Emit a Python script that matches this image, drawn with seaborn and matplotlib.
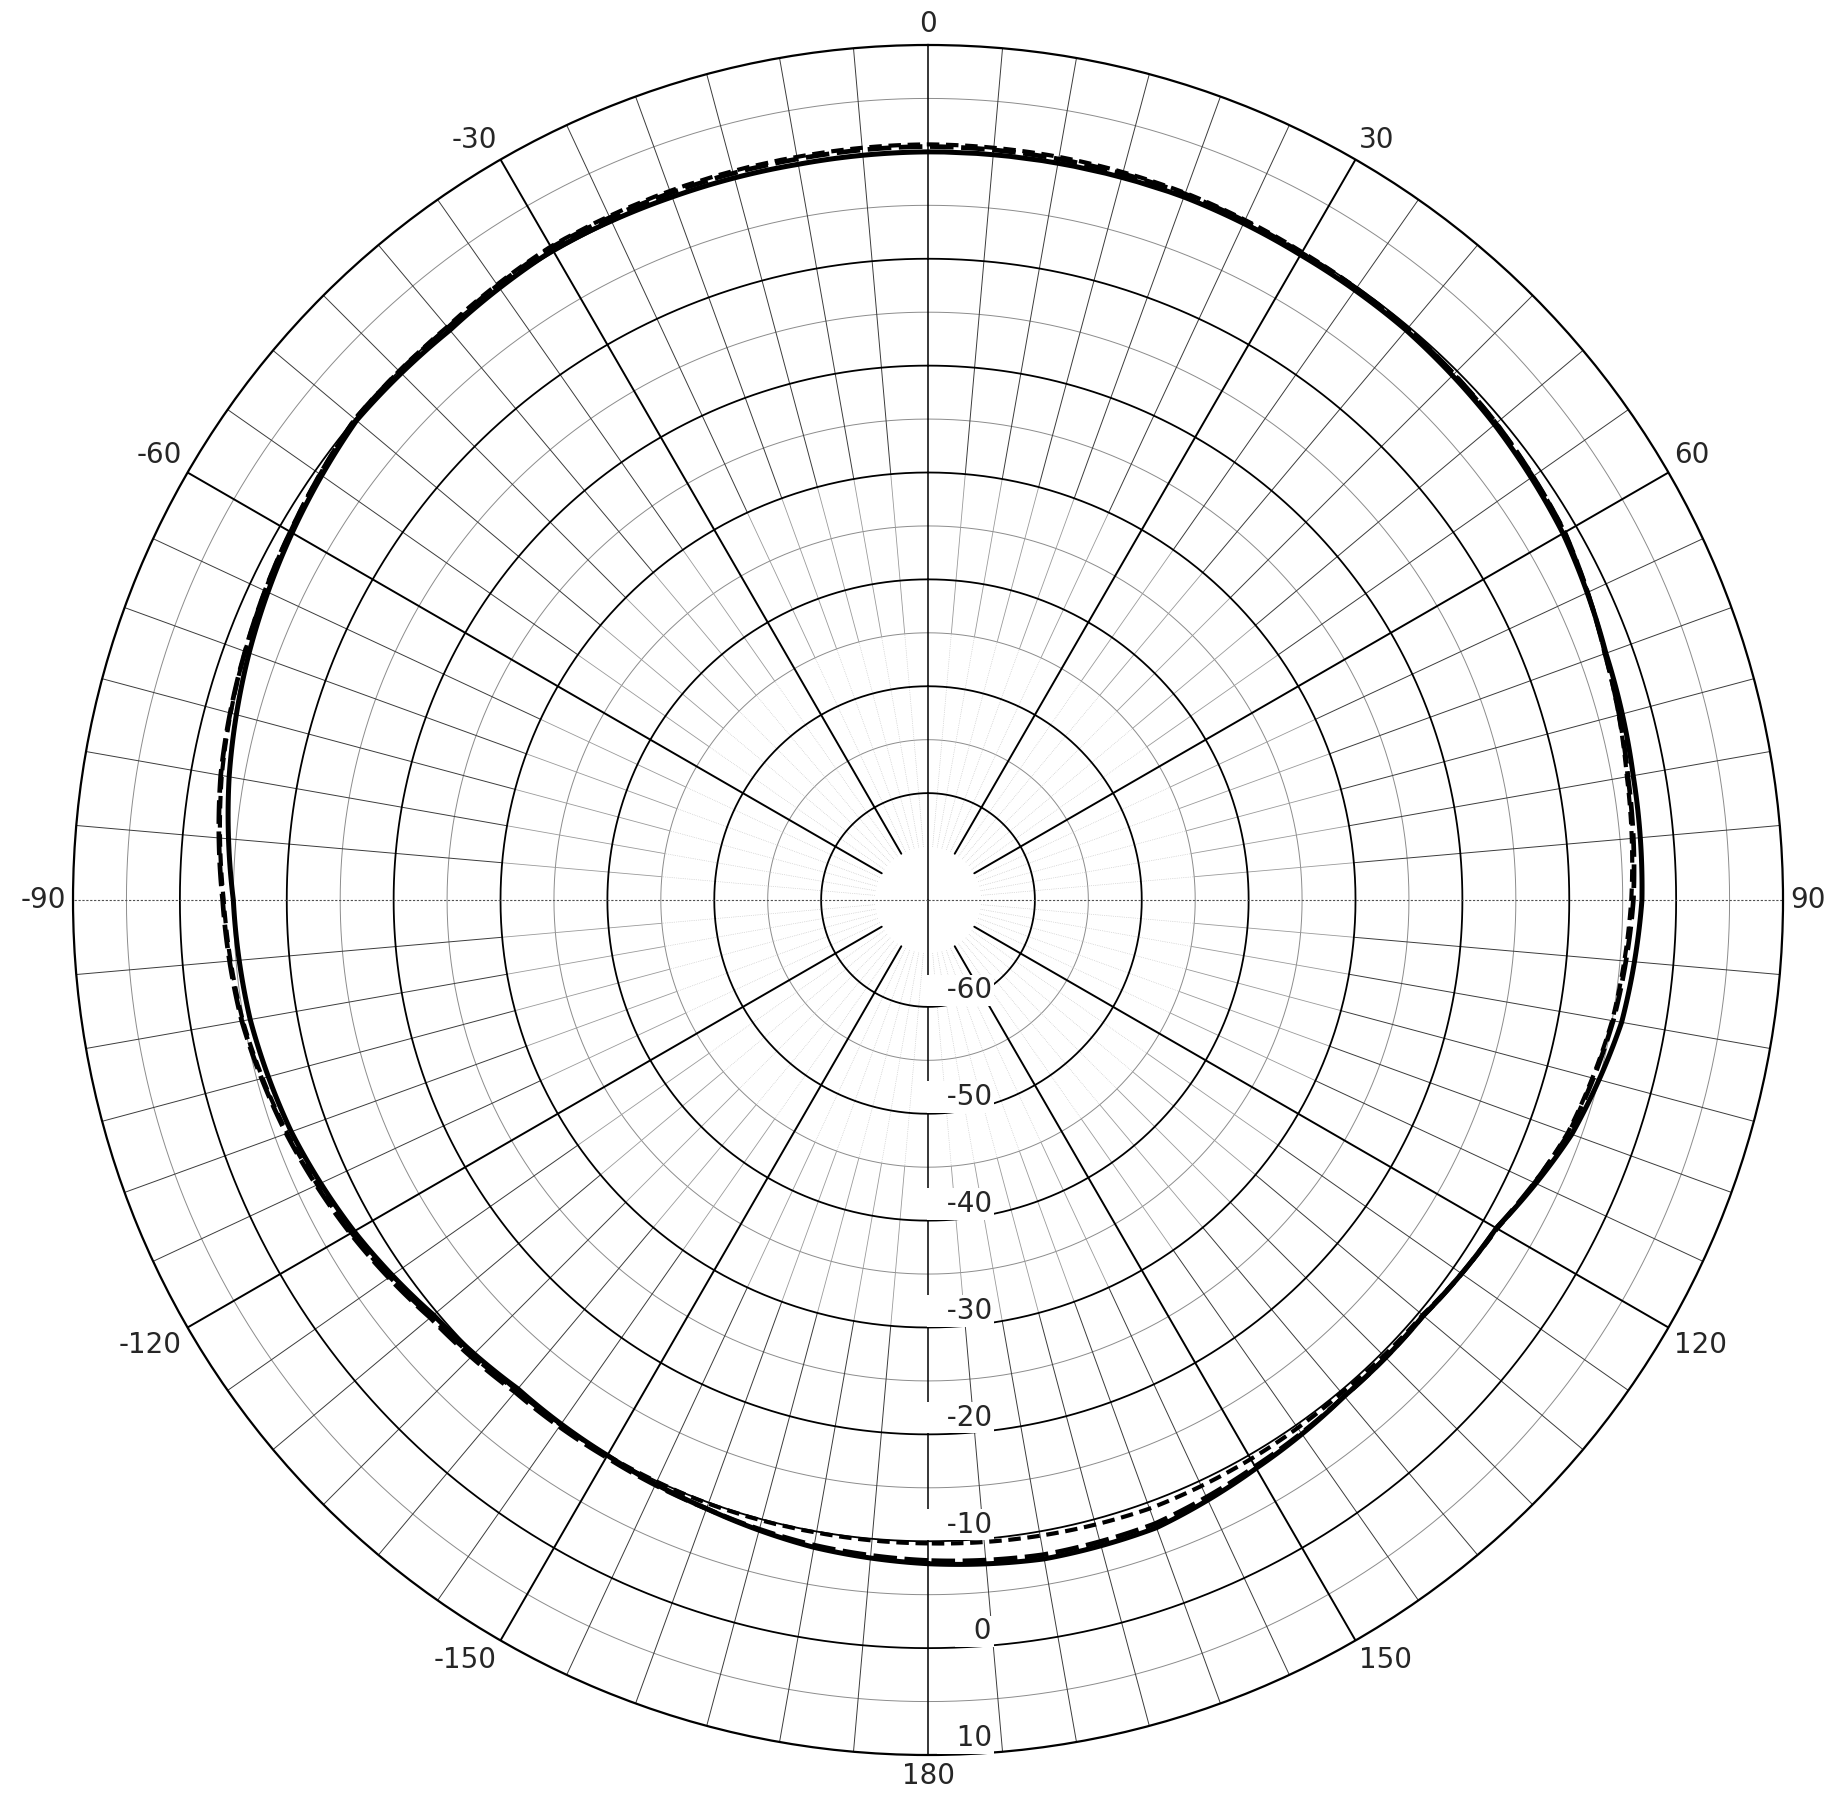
import numpy as np
import pandas as pd
import matplotlib
matplotlib.use('Agg')
import matplotlib.pyplot as plt
import seaborn as sns

# angle in degrees (0 at top, clockwise), level in dB
angles = [-180, -170, -160, -150, -140, -130, -120, -110, -100, -90,
          -80, -70, -60, -50, -40, -30, -20, -10, 0, 10,
          20, 30, 40, 50, 60, 70, 80, 90, 100, 110,
          120, 130, 140, 150, 160, 170, 180]

solid_db = [-7.9, -8.5, -9.4, -10.0, -10.3, -9.6, -8.0, -6.6, -5.6, -5.0,
            -3.6, -2.4, -1.3, -0.2, -0.4, 0.2, 0.0, -0.1, 0.0, 0.0,
            0.0, -0.3, -0.4, -0.8, -1.4, -2.5, -3.0, -3.2, -4.1, -5.9,
            -8.6, -9.5, -9.4, -8.6, -7.5, -7.4, -7.9]

long_dash_db = [-8.2, -8.7, -9.4, -9.8, -9.9, -9.2, -7.6, -6.1, -4.8, -4.0,
                -2.8, -2.0, -1.1, 0.0, -0.1, 0.5, 0.4, 0.4, 0.5, 0.4,
                0.3, -0.1, -0.2, -0.6, -1.2, -2.6, -3.5, -4.0, -4.9, -6.2,
                -8.6, -9.5, -9.4, -8.8, -7.9, -7.8, -8.2]

short_dash_db = [-9.8, -9.9, -9.9, -10.0, -10.1, -9.3, -7.7, -6.2, -4.9, -4.1,
                 -2.9, -2.0, -1.1, 0.0, 0.0, 0.6, 0.6, 0.6, 0.7, 0.6,
                 0.4, 0.0, -0.2, -0.6, -1.2, -2.6, -3.6, -4.2, -5.0, -6.3,
                 -8.5, -9.6, -9.8, -9.6, -9.4, -9.6, -9.8]

ring_values = [-60, -50, -40, -30, -20, -10, 0, 10]
angle_ticks = [0, 30, 60, 90, 120, 150, 180, -150, -120, -90, -60, -30]

R_MIN, R_MAX = -70, 10

sns.set_style('white')
plt.rcParams['font.family'] = ['DejaVu Sans']

df = pd.DataFrame({
    'theta': np.deg2rad(angles),
    'solid': solid_db,
    'long_dash': long_dash_db,
    'short_dash': short_dash_db,
})

fig = plt.figure(figsize=(18.25, 18.0), dpi=100)
ax = fig.add_axes([0.04, 0.025, 0.937, 0.95], projection='polar')
ax.set_theta_zero_location('N')
ax.set_theta_direction(-1)
ax.grid(False)

full = np.linspace(0, 2 * np.pi, 721)

# minor rings every 5 dB
for v in range(-55, R_MAX, 10):
    ax.plot(full, np.full_like(full, v), color='#8c8c8c', lw=0.7, zorder=1)

# major rings every 10 dB
for v in ring_values[:-1]:
    ax.plot(full, np.full_like(full, v), color='black', lw=1.3, zorder=1.5)

# minor spokes every 5 degrees
for a in range(0, 360, 5):
    if a % 30 == 0:
        continue
    t = np.deg2rad(a)
    ax.plot([t, t], [-30, R_MAX], color='#3c3c3c', lw=0.7, zorder=1)
    ax.plot([t, t], [-45, -30], color='#9a9a9a', lw=0.6, zorder=1)
    ax.plot([t, t], [-65, -45], color='#c0c0c0', lw=0.5, ls=':', zorder=1)

# major spokes every 30 degrees
for a in range(0, 360, 30):
    t = np.deg2rad(a)
    if a in (0, 180):
        ax.plot([t, t], [R_MIN, R_MAX], color='black', lw=1.1, zorder=2)
    elif a in (90, 270):
        ax.plot([t, t], [R_MIN, R_MAX], color='#505050', lw=0.8,
                ls=(0, (2, 1.5)), zorder=2)
    else:
        ax.plot([t, t], [-65, R_MAX], color='black', lw=1.4, zorder=2)

n_before = len(ax.lines)
sns.lineplot(data=df, x='theta', y='solid', ax=ax, color='black',
             lw=3.6, sort=False, zorder=5)
sns.lineplot(data=df, x='theta', y='long_dash', ax=ax, color='black',
             lw=3.4, linestyle=(0, (5, 1.6)), sort=False, zorder=5)
sns.lineplot(data=df, x='theta', y='short_dash', ax=ax, color='black',
             lw=3.0, linestyle=(0, (3, 1.6)), sort=False, zorder=5)

# draw the segments between readings as arcs, like a polar chart does
for line in ax.lines[n_before:]:
    line.get_path()._interpolation_steps = 40

ax.set_ylim(R_MIN, R_MAX)
ax.set_xticks([])
ax.set_yticks([])
ax.set_xlabel('')
ax.set_ylabel('')
ax.spines['polar'].set_color('black')
ax.spines['polar'].set_linewidth(1.6)

# radial level labels along the 180 spoke, masking the grid behind them
for v in ring_values:
    ax.annotate('  ' + str(v), xy=(np.pi, v), xytext=(46, 12),
                textcoords='offset points', ha='right', va='center',
                fontsize=20, zorder=3, annotation_clip=False,
                bbox=dict(boxstyle='square,pad=0.06', fc='white', ec='none'))

# angle labels round the rim
for a in angle_ticks:
    t = np.deg2rad(a)
    s, c = np.sin(t), np.cos(t)
    ha = 'center' if abs(s) < 0.1 else ('left' if s > 0 else 'right')
    va = 'center' if abs(c) < 0.1 else ('bottom' if c > 0 else 'top')
    ax.annotate(str(a), xy=(t, R_MAX), xytext=(s * 5, c * 5),
                textcoords='offset points', ha=ha, va=va, fontsize=20,
                annotation_clip=False)

fig.savefig('out.png', dpi=100)
plt.close(fig)
